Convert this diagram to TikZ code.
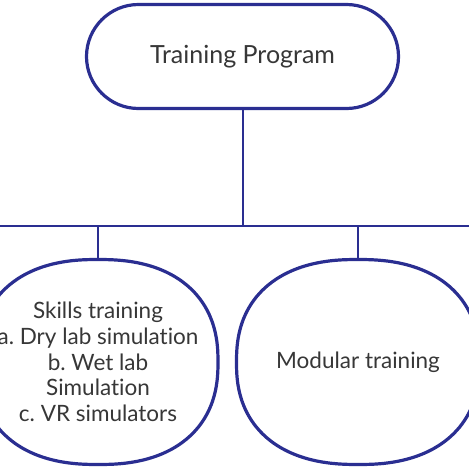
\documentclass[tikz,border=0pt]{standalone}
\usepackage{fontspec}
\setmainfont{Lato}[Ligatures=NoCommon]
\definecolor{Navy}{RGB}{42,46,145}
\definecolor{Ink}{RGB}{55,55,55}
\frenchspacing

\begin{document}
\begin{tikzpicture}[x=1pt,y=-1pt,
    programbox/.style={draw=Navy, line width=3.2pt, rounded corners=52pt, minimum width=312pt, minimum height=104pt, inner sep=0pt, text=Ink, font=\fontsize{25}{30}\selectfont},
    branchbox/.style={minimum width=241pt, minimum height=205pt, inner sep=0pt, text=Ink, align=center, font=\fontsize{22.5}{25.7}\selectfont},
    rim/.style={draw=Navy, line width=3.2pt},
    link/.style={draw=Navy, line width=1.9pt}]
    \useasboundingbox (0,0) rectangle (469,469);

    % Top level
    \node[programbox] (program) at (242.5,56.5) {Training Program};

    % Branches
    \node[branchbox] (skills) at (98,362) {Skills training\\a. Dry lab simulation\\b. Wet lab\\Simulation\\c. VR simulators};
    \node[branchbox] (modular) at (358,362) {Modular training};

    % Rounded outlines of the branches
    \draw[rim, shift={(skills.center)}] plot[smooth cycle, domain=1:356, samples=72]
        ({120*sign(cos(\x))*pow(abs(cos(\x)),0.85)}, {102.5*sign(sin(\x))*pow(abs(sin(\x)),0.85)});
    \draw[rim, shift={(modular.center)}] plot[smooth cycle, domain=1:356, samples=72]
        ({121.5*sign(cos(\x))*pow(abs(cos(\x)),0.85)}, {102.5*sign(sin(\x))*pow(abs(sin(\x)),0.85)});

    % Connections
    \coordinate (hub) at (243,226);
    \coordinate (westend) at (0,226);
    \coordinate (eastend) at (469,226);
    \draw[link] (program.south -| hub) -- (hub);
    \draw[link] (westend) -- (eastend);
    \draw[link] (skills.north |- hub) -- (skills.north);
    \draw[link] (modular.north |- hub) -- (modular.north);
\end{tikzpicture}
\end{document}
